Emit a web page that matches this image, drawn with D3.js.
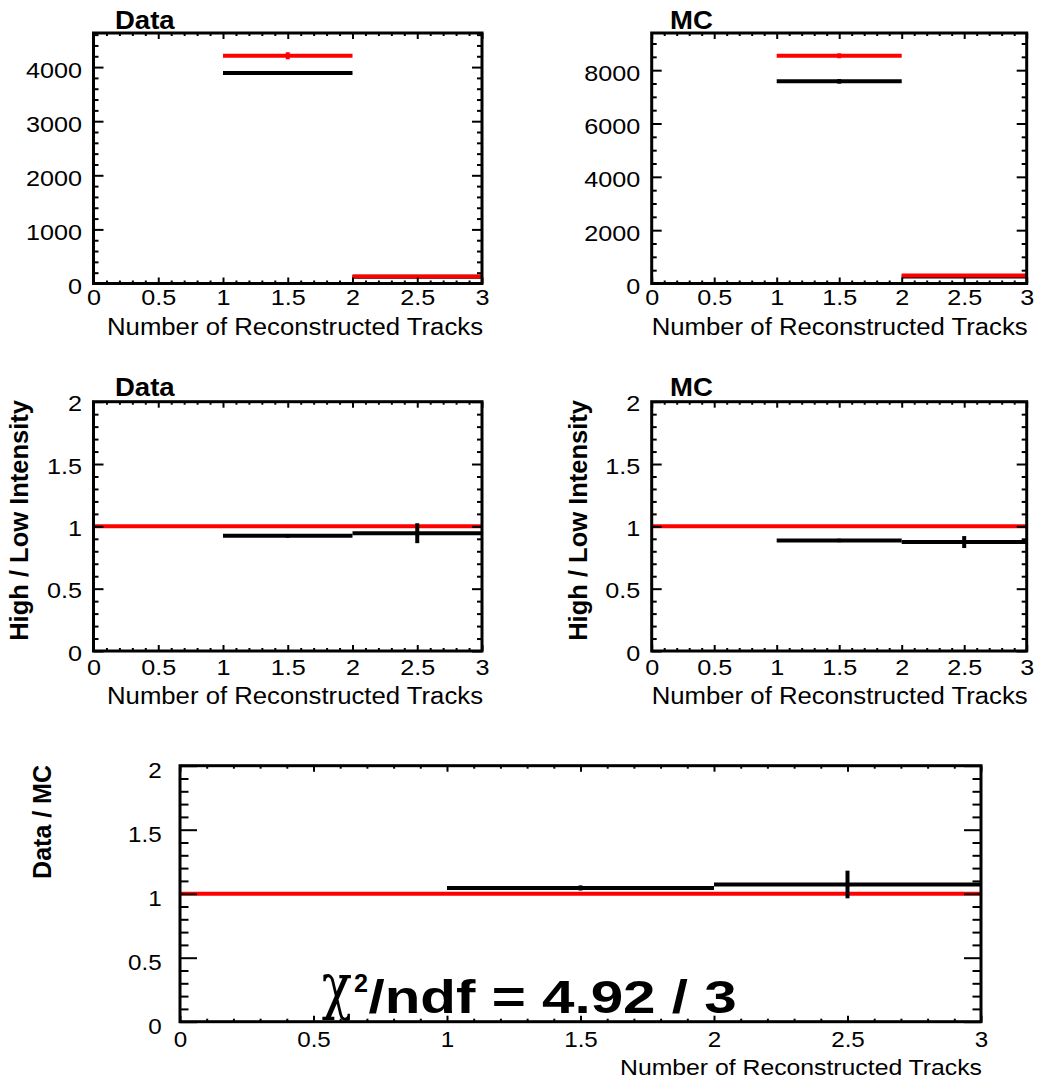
<!DOCTYPE html>
<html>
<head>
<meta charset="utf-8">
<script src="https://cdn.jsdelivr.net/npm/d3@7"></script>
<style>
  html, body { margin: 0; padding: 0; background: #fff; }
  svg { display: block; }
</style>
</head>
<body>
<script>
// ---------------- data ----------------
const xEdges = [0, 1, 2, 3];
const xTickValues = [0, 0.5, 1, 1.5, 2, 2.5, 3];
const xTickLabels = ["0", "0.5", "1", "1.5", "2", "2.5", "3"];
const xTitle = "Number of Reconstructed Tracks";

// Data: low intensity (red), high intensity (black)
const dataLow = [0, 4209, 130];
const dataLowErr = [0, 65, 11];
const dataHigh = [0, 3889, 124];
const dataHighErr = [0, 35, 11];
const dataYMax = 4630;
const dataYTicks = [0, 1000, 2000, 3000, 4000];
const dataYTickLabels = ["0", "1000", "2000", "3000", "4000"];

// MC
const mcLow = [0, 8540, 300];
const mcLowErr = [0, 92, 17];
const mcHigh = [0, 7580, 263];
const mcHighErr = [0, 87, 16];
const mcYMax = 9394;
const mcYTicks = [0, 2000, 4000, 6000, 8000];
const mcYTickLabels = ["0", "2000", "4000", "6000", "8000"];

// High / Low ratios
const dataRatio = [null, 0.924, 0.945];
const dataRatioErr = [null, 0.015, 0.08];
const mcRatio = [null, 0.887, 0.874];
const mcRatioErr = [null, 0.014, 0.048];

// Data / MC
const dataMcRatio = [null, 1.045, 1.072];
const dataMcRatioErr = [null, 0.02, 0.108];

const ratioYMax = 2;
const ratioYTicks = [0, 0.5, 1, 1.5, 2];
const ratioYTickLabels = ["0", "0.5", "1", "1.5", "2"];
const refLineValue = 1;

const chi2Value = "4.92";
const ndfValue = "3";

// ---------------- drawing ----------------
const W = 1064, H = 1086;
const FONT = "'Liberation Sans', Arial, Helvetica, sans-serif";
const RED = "#ff0000";

const svg = d3.select("body").append("svg")
  .attr("width", W).attr("height", H)
  .attr("font-family", FONT);
svg.append("rect").attr("width", W).attr("height", H).attr("fill", "#fff");

function stretch(sel, sx) {
  sel.each(function () {
    const t = d3.select(this);
    const x = +t.attr("x") || 0;
    const y = +t.attr("y") || 0;
    t.attr("x", 0).attr("y", 0)
      .attr("transform", `translate(${x},${y}) scale(${sx},1)`);
  });
}

function makePanel(o) {
  const g = svg.append("g");
  const x = d3.scaleLinear().domain([0, 3]).range([o.x0, o.x1]);
  const y = d3.scaleLinear().domain([0, o.yMax]).range([o.y1, o.y0]);
  const marks = g.append("g");
  const axes = g.append("g");

  const labelMap = new Map(o.yTicks.map((v, i) => [v, o.yTickLabels[i]]));
  const xLabelMap = new Map(xTickValues.map((v, i) => [v, xTickLabels[i]]));

  const yMinor = d3.range(0, o.yMax + 1e-9, o.yMinorStep)
    .filter(v => !o.yTicks.some(t => Math.abs(t - v) < 1e-9));
  const xMinor = d3.range(0, 3 + 1e-9, 0.1)
    .filter(v => !xTickValues.some(t => Math.abs(t - v) < 1e-9));

  function styleAxis(sel) {
    sel.select(".domain").remove();
    sel.selectAll(".tick line").attr("stroke", "#000").attr("stroke-width", 2);
    sel.attr("font-family", FONT).attr("font-size", o.fs);
  }

  // left (labels)
  const left = axes.append("g").attr("transform", `translate(${o.x0},0)`)
    .call(d3.axisLeft(y).tickValues(o.yTicks).tickFormat(v => labelMap.get(v))
      .tickSizeInner(-o.yLen).tickSizeOuter(0).tickPadding(o.yPad));
  styleAxis(left);
  left.selectAll("text").attr("fill", "#000").attr("dy", o.yDy);
  stretch(left.selectAll("text"), o.sx);
  const leftMin = axes.append("g").attr("transform", `translate(${o.x0},0)`)
    .call(d3.axisLeft(y).tickValues(yMinor).tickFormat("").tickSizeInner(-o.yLen / 2).tickSizeOuter(0));
  styleAxis(leftMin);
  // right
  const right = axes.append("g").attr("transform", `translate(${o.x1},0)`)
    .call(d3.axisRight(y).tickValues(o.yTicks).tickFormat("").tickSizeInner(-o.yLen).tickSizeOuter(0));
  styleAxis(right);
  const rightMin = axes.append("g").attr("transform", `translate(${o.x1},0)`)
    .call(d3.axisRight(y).tickValues(yMinor).tickFormat("").tickSizeInner(-o.yLen / 2).tickSizeOuter(0));
  styleAxis(rightMin);

  // bottom (labels)
  const bottom = axes.append("g").attr("transform", `translate(0,${o.y1})`)
    .call(d3.axisBottom(x).tickValues(xTickValues).tickFormat(v => xLabelMap.get(v))
      .tickSizeInner(-o.xLen).tickSizeOuter(0));
  styleAxis(bottom);
  bottom.selectAll("text").attr("fill", "#000").attr("y", o.xBase).attr("dy", 0);
  stretch(bottom.selectAll("text"), o.sx);
  const bottomMin = axes.append("g").attr("transform", `translate(0,${o.y1})`)
    .call(d3.axisBottom(x).tickValues(xMinor).tickFormat("").tickSizeInner(-o.xLen / 2).tickSizeOuter(0));
  styleAxis(bottomMin);
  // top
  const top = axes.append("g").attr("transform", `translate(0,${o.y0})`)
    .call(d3.axisTop(x).tickValues(xTickValues).tickFormat("").tickSizeInner(-o.xLen).tickSizeOuter(0));
  styleAxis(top);
  const topMin = axes.append("g").attr("transform", `translate(0,${o.y0})`)
    .call(d3.axisTop(x).tickValues(xMinor).tickFormat("").tickSizeInner(-o.xLen / 2).tickSizeOuter(0));
  styleAxis(topMin);

  // frame
  axes.append("rect")
    .attr("x", o.x0).attr("y", o.y0)
    .attr("width", o.x1 - o.x0).attr("height", o.y1 - o.y0)
    .attr("fill", "none").attr("stroke", "#000").attr("stroke-width", 3);

  // x-axis title
  g.append("text")
    .attr("x", o.x1 + 1 - o.xTitleLen).attr("y", o.xTitleBase)
    .attr("font-size", o.xTitleFs)
    .attr("textLength", o.xTitleLen).attr("lengthAdjust", "spacingAndGlyphs")
    .attr("fill", "#000")
    .text(xTitle);

  return { g, x, y, marks };
}

function drawHist(p, values, errs, color) {
  const bins = values.map((v, i) => ({ v, e: errs[i], x0: xEdges[i], x1: xEdges[i + 1] }))
    .filter(d => d.v !== null && d.v > 0);
  const grp = p.marks.append("g");
  grp.selectAll(null).data(bins).join("line")
    .attr("x1", d => p.x(d.x0)).attr("x2", d => p.x(d.x1))
    .attr("y1", d => p.y(d.v)).attr("y2", d => p.y(d.v))
    .attr("stroke", color).attr("stroke-width", 4);
  grp.selectAll(null).data(bins).join("line")
    .attr("x1", d => p.x((d.x0 + d.x1) / 2)).attr("x2", d => p.x((d.x0 + d.x1) / 2))
    .attr("y1", d => p.y(d.v - d.e)).attr("y2", d => p.y(d.v + d.e))
    .attr("stroke", color).attr("stroke-width", 4);
}

function drawRefLine(p) {
  p.marks.append("line")
    .attr("x1", p.x(xEdges[0])).attr("x2", p.x(xEdges[xEdges.length - 1]))
    .attr("y1", p.y(refLineValue)).attr("y2", p.y(refLineValue))
    .attr("stroke", RED).attr("stroke-width", 4);
}

function title(text, x, y) {
  svg.append("text").attr("x", 0).attr("y", 0)
    .attr("transform", `translate(${x},${y}) scale(1.08,1)`)
    .attr("font-size", 25.5).attr("font-weight", "bold").attr("fill", "#000")
    .text(text);
}

function yTitle(text, x, yTop, fs) {
  svg.append("text")
    .attr("transform", `translate(${x},${yTop}) rotate(-90)`)
    .attr("text-anchor", "end")
    .attr("font-size", fs).attr("font-weight", "bold").attr("fill", "#000")
    .text(text);
}

const topCommon = { fs: 22.5, sx: 1.12, yLen: 10, xLen: 6, yPad: 11.5, yDy: 10 };

// Panel 1: Data
const p1 = makePanel(Object.assign({}, topCommon, {
  x0: 93.5, x1: 482, y0: 33, y1: 283.5, yMax: dataYMax,
  yTicks: dataYTicks, yTickLabels: dataYTickLabels, yMinorStep: 200,
  xBase: 21.5, xTitleBase: 335, xTitleLen: 376, xTitleFs: 23.5
}));
drawHist(p1, dataHigh, dataHighErr, "#000");
drawHist(p1, dataLow, dataLowErr, RED);
title("Data", 115, 28.5);

// Panel 2: MC
const p2 = makePanel(Object.assign({}, topCommon, {
  x0: 651.7, x1: 1026.7, y0: 33, y1: 283.5, yMax: mcYMax,
  yTicks: mcYTicks, yTickLabels: mcYTickLabels, yMinorStep: 500,
  xBase: 21.5, xTitleBase: 335, xTitleLen: 376, xTitleFs: 23.5
}));
drawHist(p2, mcHigh, mcHighErr, "#000");
drawHist(p2, mcLow, mcLowErr, RED);
title("MC", 670, 28.5);

// Panel 3: Data High/Low
const p3 = makePanel(Object.assign({}, topCommon, {
  x0: 93.5, x1: 482, y0: 401.7, y1: 651, yMax: ratioYMax,
  yTicks: ratioYTicks, yTickLabels: ratioYTickLabels, yMinorStep: 0.1,
  yDy: 9, xBase: 24, xTitleBase: 703.5, xTitleLen: 376, xTitleFs: 23.5
}));
drawRefLine(p3);
drawHist(p3, dataRatio, dataRatioErr, "#000");
title("Data", 115, 396);
yTitle("High / Low Intensity", 28, 400, 25.5);

// Panel 4: MC High/Low
const p4 = makePanel(Object.assign({}, topCommon, {
  x0: 651.7, x1: 1026.7, y0: 401.7, y1: 651, yMax: ratioYMax,
  yTicks: ratioYTicks, yTickLabels: ratioYTickLabels, yMinorStep: 0.1,
  yDy: 9, xBase: 24, xTitleBase: 703.5, xTitleLen: 376, xTitleFs: 23.5
}));
drawRefLine(p4);
drawHist(p4, mcRatio, mcRatioErr, "#000");
title("MC", 670, 396);
yTitle("High / Low Intensity", 587, 400, 25.5);

// Panel 5: Data / MC
const p5 = makePanel({
  fs: 22, sx: 1.1, yLen: 17, xLen: 6, yPad: 18.3, yDy: 11.5,
  x0: 180, x1: 981, y0: 765.7, y1: 1021.7, yMax: ratioYMax,
  yTicks: ratioYTicks, yTickLabels: ratioYTickLabels, yMinorStep: 0.1,
  xBase: 25, xTitleBase: 1075, xTitleLen: 362, xTitleFs: 21.5
});
drawRefLine(p5);
drawHist(p5, dataMcRatio, dataMcRatioErr, "#000");
yTitle("Data / MC", 51, 765, 25);

// chi2 / ndf annotation
svg.append("text")
  .attr("transform", "translate(321.7,1006.5) scale(1,1.22)")
  .attr("font-family", "'DejaVu Serif', 'Liberation Serif', serif")
  .attr("font-size", 50)
  .attr("fill", "#000")
  .text("\u03C7");
svg.append("text")
  .attr("x", 354).attr("y", 991.7)
  .attr("font-size", 26).attr("font-weight", "bold")
  .attr("textLength", 14).attr("lengthAdjust", "spacingAndGlyphs")
  .attr("fill", "#000")
  .text("2");
svg.append("text")
  .attr("x", 368.5).attr("y", 1013.3)
  .attr("font-size", 46).attr("font-weight", "bold")
  .attr("textLength", 368.2).attr("lengthAdjust", "spacingAndGlyphs")
  .attr("fill", "#000")
  .text(`/ndf = ${chi2Value} / ${ndfValue}`);
</script>
</body>
</html>
